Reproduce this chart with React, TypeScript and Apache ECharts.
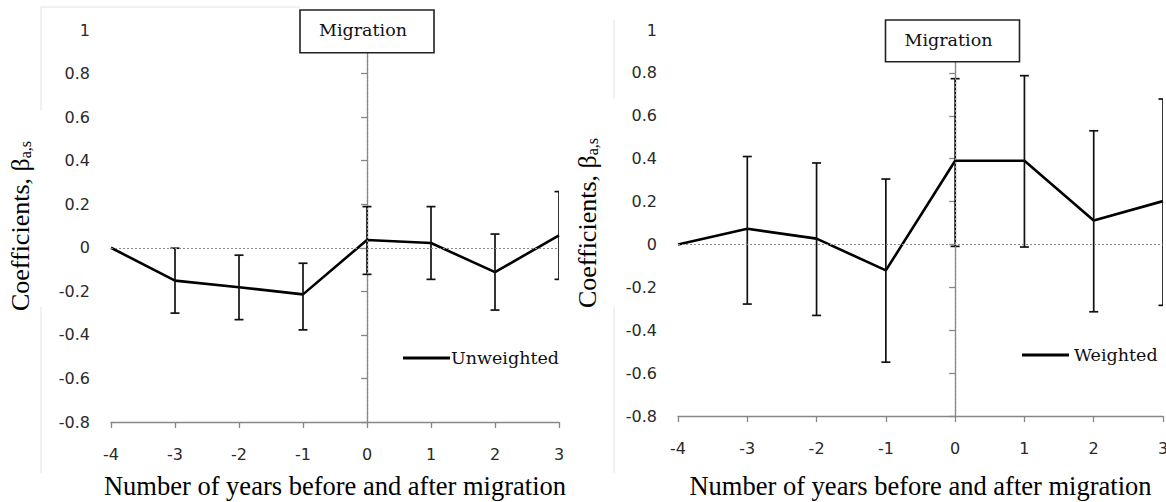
import React, { useEffect, useRef } from "react";
import * as echarts from "echarts";

const years = [-4, -3, -2, -1, 0, 1, 2, 3];

const unweighted = [0, -0.151, -0.181, -0.214, 0.036, 0.022, -0.112, 0.057];
const unweightedHigh = [0, -0.002, -0.034, -0.071, 0.189, 0.189, 0.063, 0.258];
const unweightedLow = [0, -0.3, -0.33, -0.377, -0.122, -0.145, -0.286, -0.145];

const weighted = [0, 0.073, 0.027, -0.121, 0.39, 0.39, 0.112, 0.202];
const weightedHigh = [0, 0.41, 0.38, 0.305, 0.773, 0.787, 0.53, 0.678];
const weightedLow = [0, -0.278, -0.331, -0.549, -0.009, -0.012, -0.314, -0.284];

const yTicks = { min: -0.8, max: 1, interval: 0.2 };
const xTicks = { min: -4, max: 3, interval: 1 };

const yTitle = "Coefficients, β";
const ySub = "a,s";
const xTitle = "Number of years before and after migration";
const eventLabel = "Migration";

const AXIS_GRAY = "#878787";
const LABEL_FONT = "DejaVu Sans";
const SERIF = "Liberation Serif";
const SLAB = "DejaVu Serif";

function errRender(params: any, api: any) {
  const x = api.value(0);
  const lo = api.value(1);
  const hi = api.value(2);
  if (lo === hi) return null;
  const a = api.coord([x, hi]);
  const b = api.coord([x, lo]);
  const w = 4.5;
  const style = { stroke: "#111", lineWidth: 1.7 };
  return {
    type: "group",
    children: [
      { type: "line", shape: { x1: a[0], y1: a[1], x2: b[0], y2: b[1] }, style },
      { type: "line", shape: { x1: a[0] - w, y1: a[1], x2: a[0] + w, y2: a[1] }, style },
      { type: "line", shape: { x1: b[0] - w, y1: b[1], x2: b[0] + w, y2: b[1] }, style },
    ],
  };
}

function fmtY(v: number) {
  return String(Number(v.toFixed(1)));
}

export default function App() {
  const ref = useRef<HTMLDivElement>(null);
  useEffect(() => {
    const chart = echarts.init(ref.current!, undefined, { renderer: "svg" });
    const grids = [
      { left: 111, right: 1166 - 559, top: 30, bottom: 502 - 422, outerBoundsMode: "none", containLabel: false },
      { left: 678, right: 3, top: 30, bottom: 502 - 416, outerBoundsMode: "none", containLabel: false },
    ];
    const mkX = (i: number) => ({
      type: "value",
      gridIndex: i,
      ...xTicks,
      name: xTitle,
      nameLocation: "middle",
      nameGap: i === 0 ? 50 : 56,
      nameTextStyle: { fontFamily: SERIF, fontSize: 26.5, color: "#000" },
      axisLine: { onZero: false, lineStyle: { color: AXIS_GRAY, width: 1.3 } },
      axisTick: { show: true, length: 6, inside: false, lineStyle: { color: AXIS_GRAY, width: 1.3 } },
      axisLabel: { fontFamily: LABEL_FONT, fontSize: 16, color: "#2a2a2a", margin: 24 },
      splitLine: { show: false },
    });
    const mkY = (i: number) => ({
      type: "value",
      gridIndex: i,
      ...yTicks,
      name: `{m|${yTitle}}{s|${ySub}}`,
      nameLocation: "middle",
      nameGap: 76,
      nameTextStyle: {
        padding: [0, 0, 0, 0],
        rich: {
          m: { fontFamily: SERIF, fontSize: 26, color: "#000", lineHeight: 30 },
          s: { fontFamily: SERIF, fontSize: 16, color: "#000", lineHeight: 30, padding: [11, 0, 0, 0] },
        },
      },
      axisLine: { show: true, lineStyle: { color: AXIS_GRAY, width: 1.3 } },
      axisTick: { show: true, length: 6, lineStyle: { color: AXIS_GRAY, width: 1.3 } },
      axisLabel: { fontFamily: LABEL_FONT, fontSize: 16, color: "#2a2a2a", margin: 21, formatter: fmtY },
      splitLine: { show: false },
    });

    const refLines = (top: number) => ({
      symbol: "none",
      silent: true,
      label: { show: false },
      lineStyle: { type: [2, 2], color: "#8a8a8a", width: 1.2 },
      data: [
        { yAxis: 0 },
        [{ coord: [0, yTicks.min] }, { coord: [0, top] }],
      ],
    });

    const lineSeries = (name: string, vals: number[], i: number, top: number) => ({
      name,
      type: "line",
      xAxisIndex: i,
      yAxisIndex: i,
      data: years.map((y, k) => [y, vals[k]]),
      showSymbol: false,
      symbol: "none",
      lineStyle: { color: "#000", width: 2.6 },
      itemStyle: { color: "#000" },
      z: 3,
      markLine: refLines(top),
    });
    const errSeries = (lo: number[], hi: number[], i: number) => ({
      type: "custom",
      xAxisIndex: i,
      yAxisIndex: i,
      clip: true,
      renderItem: errRender,
      encode: { x: 0, y: [1, 2] },
      data: years.map((y, k) => [y, lo[k], hi[k]]),
      z: 4,
    });

    const box = (cx: number, top: number, bottom: number) => ({
      type: "group",
      children: [
        {
          type: "rect",
          shape: { x: cx - 67, y: top, width: 134, height: bottom - top },
          style: { fill: "#fff", stroke: "#222", lineWidth: 1.6 },
          z: 10,
        },
        {
          type: "text",
          x: cx - 4,
          y: (top + bottom) / 2 - 1,
          style: {
            text: eventLabel,
            fontFamily: SLAB,
            fontSize: 17.5,
            fill: "#111",
            align: "center",
            verticalAlign: "middle",
          },
          z: 11,
        },
      ],
    });
    const faint = { stroke: "#e2e2e2", lineWidth: 1 };
    const legendText = { fontFamily: SLAB, fontSize: 17.5, color: "#111" };

    chart.setOption({
      animation: false,
      grid: grids,
      xAxis: [mkX(0), mkX(1)],
      yAxis: [mkY(0), mkY(1)],
      legend: [
        {
          data: [{ name: "Unweighted", icon: "rect" }],
          left: 403,
          top: 349,
          padding: 0,
          itemWidth: 47,
          itemHeight: 3,
          itemGap: 2,
          textStyle: { ...legendText, padding: [0, 0, 0, -4] },
        },
        {
          data: [{ name: "Weighted", icon: "rect" }],
          left: 1022,
          top: 346,
          padding: 0,
          itemWidth: 47,
          itemHeight: 3,
          textStyle: { ...legendText, padding: [0, 0, 0, 0] },
        },
      ],
      series: [
        lineSeries("Unweighted", unweighted, 0, 0.896),
        errSeries(unweightedLow, unweightedHigh, 0),
        lineSeries("Weighted", weighted, 1, 0.853),
        errSeries(weightedLow, weightedHigh, 1),
      ],
      graphic: [
        { type: "line", shape: { x1: 41, y1: 7, x2: 41, y2: 110 }, style: faint, silent: true },
        { type: "line", shape: { x1: 41, y1: 7, x2: 300, y2: 7 }, style: faint, silent: true },
        { type: "line", shape: { x1: 41, y1: 307, x2: 41, y2: 473 }, style: faint, silent: true },
        { type: "line", shape: { x1: 614, y1: 20, x2: 614, y2: 99 }, style: faint, silent: true },
        { type: "line", shape: { x1: 614, y1: 307, x2: 614, y2: 473 }, style: faint, silent: true },
        box(367, 10, 52.7),
        box(952.5, 20, 61.7),
      ],
    });
    return () => chart.dispose();
  }, []);
  return (
    <div
      ref={ref}
      style={{ position: "fixed", left: 0, top: 0, width: 1166, height: 502, background: "#fff" }}
    />
  );
}
